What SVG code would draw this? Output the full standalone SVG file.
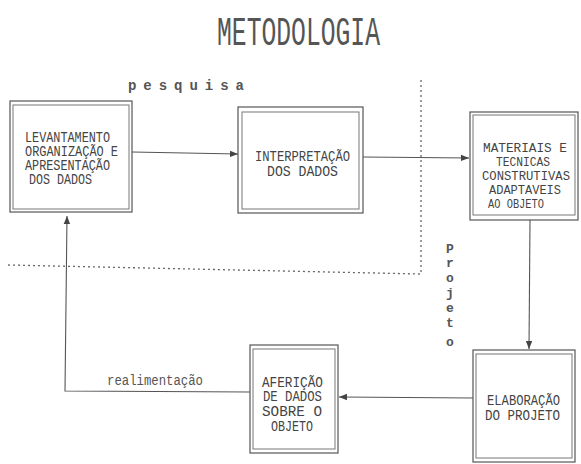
<svg xmlns="http://www.w3.org/2000/svg" width="581" height="464" viewBox="0 0 581 464">
<style>
.box{fill:none;stroke:#555;stroke-width:1.2}
.inner{fill:none;stroke:#777;stroke-width:1}
.t{font-family:"Liberation Mono","DejaVu Sans Mono",monospace;font-size:15px;fill:#444}
.t3{font-size:13.5px}
.con{fill:none;stroke:#555;stroke-width:1.1}
.dot{fill:none;stroke:#666;stroke-width:1.3;stroke-dasharray:2 3}
.lbl{font-family:"Liberation Mono","DejaVu Sans Mono",monospace;fill:#555}
</style>
<defs>
<marker id="ah" viewBox="0 0 10 10" refX="10" refY="5" markerWidth="8" markerHeight="8" markerUnits="userSpaceOnUse" orient="auto">
<path d="M0,1 L10,5 L0,9 Z" fill="#444"/>
</marker>
</defs>
<rect width="581" height="464" fill="#fff"/>
<text class="lbl" x="217" y="45" font-size="40" textLength="163" lengthAdjust="spacingAndGlyphs">METODOLOGIA</text>
<text class="lbl" x="128" y="90" font-size="14" font-weight="bold" textLength="116" lengthAdjust="spacing">pesquisa</text>
<g id="divider">
<path class="dot" d="M421,80 L421,275"/>
<path class="dot" d="M8,265 L420,274"/>
</g>
<text class="lbl" font-size="13" font-weight="bold" text-anchor="middle">
<tspan x="450" y="253">P</tspan><tspan x="450" y="267">r</tspan><tspan x="450" y="282">o</tspan><tspan x="450" y="297">j</tspan><tspan x="450" y="312">e</tspan><tspan x="450" y="327">t</tspan><tspan x="450" y="346">o</tspan>
</text>
<g id="connectors">
<path class="con" d="M132,152 L238,154" marker-end="url(#ah)"/>
<path class="con" d="M363,157 L469,158" marker-end="url(#ah)"/>
<path class="con" d="M530,220 L529,349" marker-end="url(#ah)"/>
<path class="con" d="M473,398 L339,397" marker-end="url(#ah)"/>
<path class="con" d="M250,392 L65,391 L67,216" marker-end="url(#ah)"/>
<text class="lbl" x="107" y="385" font-size="14" textLength="96" lengthAdjust="spacingAndGlyphs">realimentação</text>
</g>
<g id="n1">
<rect class="box" x="10" y="101" width="122" height="111"/>
<rect class="inner" x="13" y="105" width="116" height="104"/>
<text class="t" x="25" y="142" textLength="85" lengthAdjust="spacingAndGlyphs">LEVANTAMENTO</text>
<text class="t" x="25" y="156" textLength="93" lengthAdjust="spacingAndGlyphs">ORGANIZAÇÃO E</text>
<text class="t" x="25" y="170" textLength="85" lengthAdjust="spacingAndGlyphs">APRESENTAÇÃO</text>
<text class="t" x="29" y="184" textLength="63" lengthAdjust="spacingAndGlyphs">DOS DADOS</text>
</g>
<g id="n2">
<rect class="box" x="238" y="107" width="125" height="106"/>
<rect class="inner" x="242" y="112" width="117" height="97"/>
<text class="t" x="255" y="161" textLength="95" lengthAdjust="spacingAndGlyphs">INTERPRETAÇÃO</text>
<text class="t" x="267" y="176" textLength="71" lengthAdjust="spacingAndGlyphs">DOS DADOS</text>
</g>
<g id="n3">
<rect class="box" x="470" y="112" width="108" height="108"/>
<rect class="inner" x="473" y="115" width="102" height="100"/>
<text class="t t3" x="483" y="152" textLength="84" lengthAdjust="spacingAndGlyphs">MATERIAIS E</text>
<text class="t t3" x="496" y="166" textLength="54" lengthAdjust="spacingAndGlyphs">TECNICAS</text>
<text class="t t3" x="482" y="180" textLength="88" lengthAdjust="spacingAndGlyphs">CONSTRUTIVAS</text>
<text class="t t3" x="489" y="194" textLength="72" lengthAdjust="spacingAndGlyphs">ADAPTAVEIS</text>
<text class="t t3" x="488" y="208" textLength="56" lengthAdjust="spacingAndGlyphs">AO OBJETO</text>
</g>
<g id="n4">
<rect class="box" x="250" y="345" width="88" height="108"/>
<rect class="inner" x="253" y="349" width="82" height="100"/>
<text class="t" x="262" y="387" textLength="61" lengthAdjust="spacingAndGlyphs">AFERIÇÃO</text>
<text class="t" x="263" y="401" textLength="59" lengthAdjust="spacingAndGlyphs">DE DADOS</text>
<text class="t" x="262" y="416" textLength="60" lengthAdjust="spacingAndGlyphs">SOBRE  O</text>
<text class="t" x="271" y="431" textLength="42" lengthAdjust="spacingAndGlyphs">OBJETO</text>
</g>
<g id="n5">
<rect class="box" x="473" y="350" width="102" height="112"/>
<rect class="inner" x="476" y="354" width="96" height="104"/>
<text class="t" x="487" y="405" textLength="73" lengthAdjust="spacingAndGlyphs">ELABORAÇÃO</text>
<text class="t" x="485" y="420" textLength="75" lengthAdjust="spacingAndGlyphs">DO PROJETO</text>
</g>
</svg>
